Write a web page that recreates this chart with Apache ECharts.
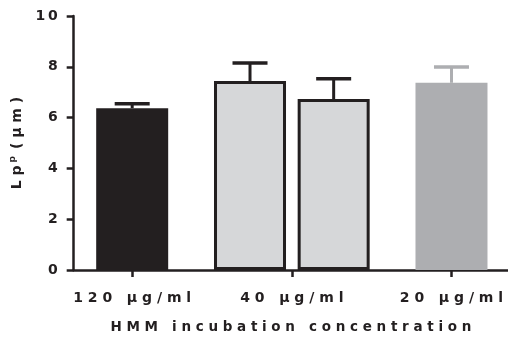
<!DOCTYPE html>
<html>
<head>
<meta charset="utf-8">
<script src="https://cdn.jsdelivr.net/npm/echarts@6/dist/echarts.min.js"></script>
<style>html,body{margin:0;padding:0;background:#fff}#c{width:508px;height:341px}</style>
</head>
<body>
<div id="c"></div>
<script>
// ---- data ----
var categories = ['120 μg/ml', '40 μg/ml', '20 μg/ml'];
var barCategory = [0, 1, 1, 2];          // which concentration each bar belongs to
var barMean = [6.37, 7.44, 6.73, 7.37];   // Lp^p (μm)
var barUpper = [6.55, 8.15, 7.53, 7.99];  // mean + SEM
var yTicks = [0, 2, 4, 6, 8, 10];

// ---- styles ----
var INK = '#231f20';
var styles = [
  { fill: INK, border: null, err: INK },
  { fill: '#d6d7d9', border: INK, err: INK },
  { fill: '#d6d7d9', border: INK, err: INK },
  { fill: '#adaeb1', border: null, err: '#adaeb1' }
];
var GROUP_STEP = 0.262;
var FONT = '"DejaVu Sans", sans-serif';

function spaced(s) { return s.split('').join(' '); }

// position each bar within its category group
var xPos = barCategory.map(function (c, i) {
  var members = [];
  barCategory.forEach(function (cc, j) { if (cc === c) members.push(j); });
  var k = members.indexOf(i), n = members.length;
  return c + (k - (n - 1) / 2) * 2 * GROUP_STEP;
});

var barData = barMean.map(function (v, i) {
  var s = styles[i];
  return {
    value: [xPos[i], v],
    itemStyle: {
      color: s.fill,
      borderColor: s.border || s.fill,
      borderWidth: s.border ? 3 : 0
    }
  };
});

var errData = barMean.map(function (v, i) { return [xPos[i], v, barUpper[i], i]; });

var chart = echarts.init(document.getElementById('c'), null, { renderer: 'canvas' });
chart.setOption({
  animation: false,
  grid: { left: 70, right: 0, top: 16, bottom: 71, containLabel: false },
  xAxis: {
    type: 'value',
    min: -0.3665, max: 2.354,
    splitLine: { show: false },
    axisLine: { show: true, onZero: false, lineStyle: { color: INK, width: 2.5 } },
    axisTick: { show: true, customValues: [0, 1, 2], length: 7, lineStyle: { color: INK, width: 2.5 } },
    axisLabel: {
      customValues: [0, 1, 2], margin: 21,
      color: INK, fontFamily: FONT, fontWeight: 'bold', fontSize: 14,
      formatter: function (v) { return spaced(categories[Math.round(v)]); }
    },
    name: spaced('HMM incubation concentration'),
    nameLocation: 'middle', nameGap: 50,
    nameTextStyle: { color: INK, fontFamily: FONT, fontWeight: 'bold', fontSize: 13.5 }
  },
  yAxis: {
    type: 'value', min: 0, max: 10, interval: 2,
    splitLine: { show: false },
    axisLine: { show: true, onZero: false, lineStyle: { color: INK, width: 2.5 } },
    axisTick: { show: true, length: 7, lineStyle: { color: INK, width: 2.5 } },
    axisLabel: {
      margin: 16, color: INK, fontFamily: FONT, fontWeight: 'bold', fontSize: 14,
      formatter: function (v) { return yTicks.indexOf(v) >= 0 ? String(v).split('').join('\u2009') : ''; }
    },
    name: '{a|L p}{s|p}{a| ( μ m )}',
    nameLocation: 'middle', nameRotate: 90, nameGap: 40,
    nameTextStyle: {
      color: INK,
      rich: {
        a: { fontFamily: FONT, fontWeight: 'bold', fontSize: 14, color: INK },
        s: { fontFamily: FONT, fontWeight: 'bold', fontSize: 9, color: INK, padding: [0, 2, 10, 3] }
      }
    }
  },
  series: [
    {
      type: 'custom',
      z: 1,
      data: errData,
      renderItem: function (params, api) {
        var i = api.value(3);
        var s = styles[i];
        var top = api.coord([api.value(0), api.value(1)]);
        var up = api.coord([api.value(0), api.value(2)]);
        var half = 17.5;
        return {
          type: 'group',
          children: [
            { type: 'line', shape: { x1: top[0], y1: top[1], x2: up[0], y2: up[1] },
              style: { stroke: s.err, lineWidth: 3 } },
            { type: 'line', shape: { x1: up[0] - half, y1: up[1], x2: up[0] + half, y2: up[1] },
              style: { stroke: s.err, lineWidth: 3.5 } }
          ]
        };
      }
    },
    {
      type: 'bar',
      z: 2,
      barWidth: 72,
      data: barData
    }
  ]
});
</script>
</body>
</html>
